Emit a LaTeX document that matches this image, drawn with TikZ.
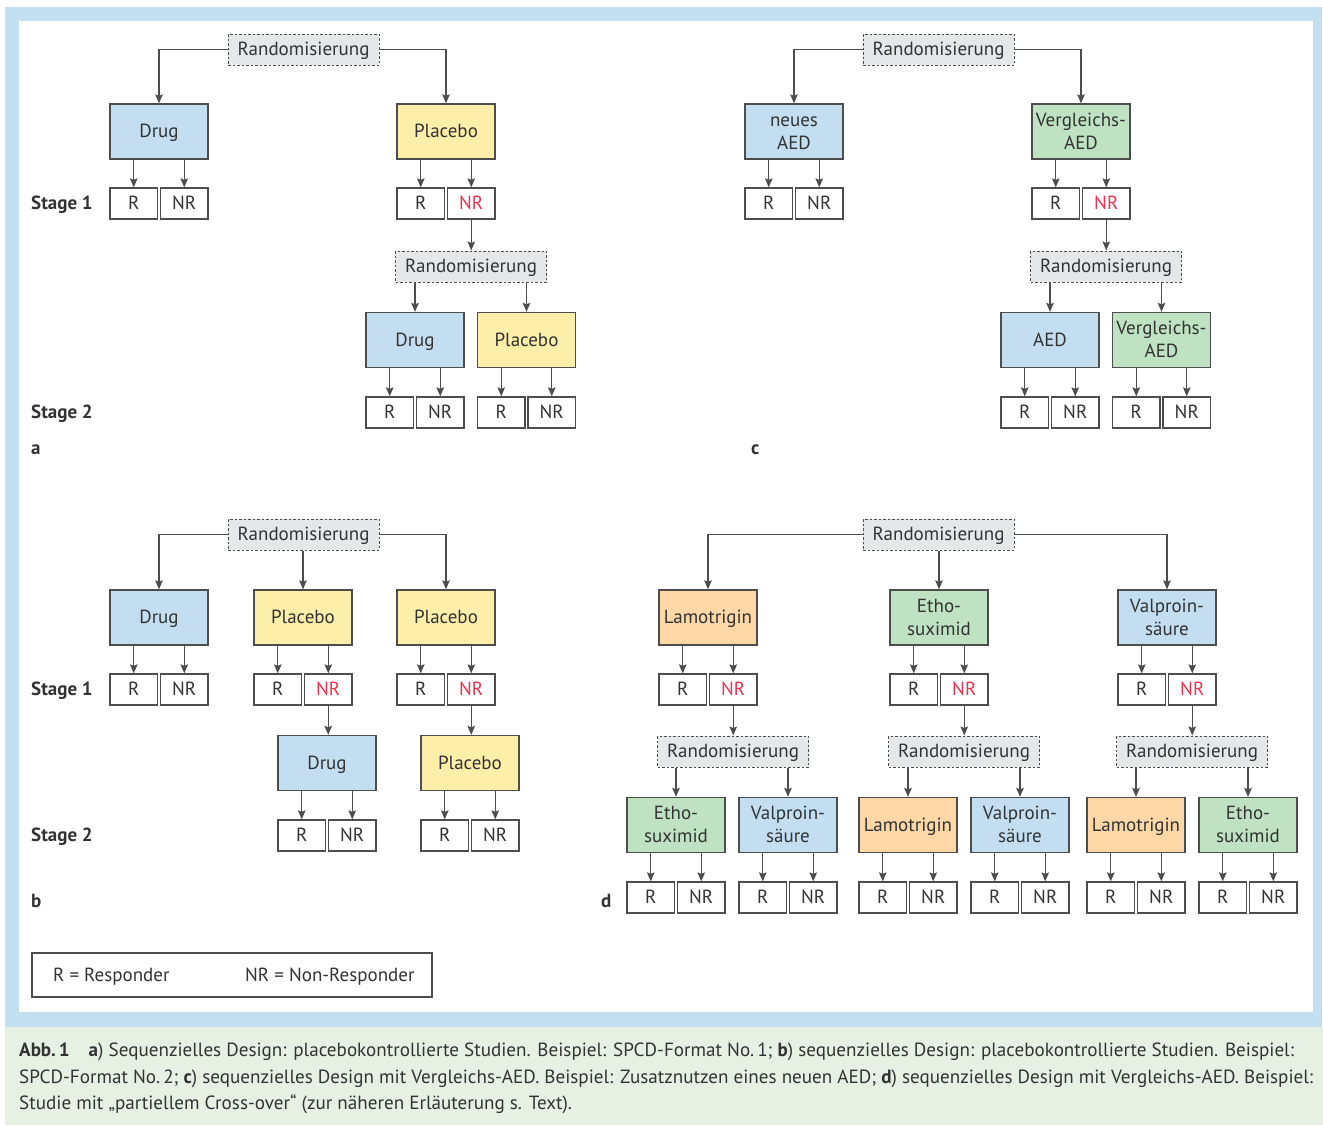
\documentclass[tikz,border=0pt]{standalone}
\usepackage{fontspec}
\setmainfont{PT Sans}
\usetikzlibrary{arrows.meta}
\definecolor{blueF}{HTML}{C2DEF0}
\definecolor{yellowF}{HTML}{FDEEAA}
\definecolor{greenF}{HTML}{BEE2C2}
\definecolor{orangeF}{HTML}{FDD8A6}
\definecolor{grayF}{HTML}{E6E7E8}
\definecolor{redT}{HTML}{E8334F}
\definecolor{lineC}{HTML}{4D4D4D}
\definecolor{textC}{HTML}{333333}
\definecolor{frameBlue}{HTML}{C4DFEF}
\definecolor{capGreen}{HTML}{E6F1E4}
\newcommand\fsN{\fontsize{19}{23}\selectfont}
\newcommand\fsC{\fontsize{19.1}{26}\selectfont}
\newcommand\twoline[2]{\rule{0pt}{14.5pt}#1\\#2\rule[-2.5pt]{0pt}{2.5pt}}
\tikzset{
  every node/.style={text=textC},
  drugbox/.style={draw=lineC, line width=1.3pt, minimum width=98pt, minimum height=55pt, inner sep=0pt, align=center, font=\fsN},
  sbox/.style={drugbox, text height=14.5pt, text depth=2.5pt},
  rn/.style={draw=lineC, line width=1.3pt, minimum width=47.5pt, minimum height=31pt, inner sep=0pt, font=\fsN, text height=14.5pt, text depth=2.5pt},
  randbox/.style={draw=lineC, line width=1pt, dash pattern=on 2.5pt off 2pt, fill=grayF, minimum width=151pt, minimum height=31pt, inner sep=0pt, font=\fsN, text height=14.5pt, text depth=2.5pt},
  arr/.style={draw=lineC, line width=1.2pt, -{Stealth[length=9pt,width=7.5pt,inset=1.5pt]}},
  lbl/.style={anchor=west, font=\fsN\bfseries, inner sep=0pt, text height=14.5pt, text depth=2.5pt},
}
\newcommand\RNpair[5]{%
  \node[rn] (#1R) at (#3-25.25,#4) {R};
  \node[rn, text=#5] (#1N) at (#3+25.25,#4) {NR};
  \draw[arr] (#2.south -| #1R.north) -- (#1R.north);
  \draw[arr] (#2.south -| #1N.north) -- (#1N.north);
}
\begin{document}
\begin{tikzpicture}[x=1pt,y=-1pt]
\useasboundingbox (0,0) rectangle (1323,1125);
% frame
\fill[frameBlue] (5,7) rectangle (1322,1027);
\fill[white] (19,21) rectangle (1313,1012);
\fill[capGreen] (5,1027) rectangle (1323,1125);

% ===== Panel a =====
\node[randbox] (randA) at (303.5,49.5) {Randomisierung};
\node[sbox, fill=blueF] (drugA) at (159,131.5) {Drug};
\node[sbox, fill=yellowF] (placA) at (446,131.5) {Placebo};
\draw[arr] (randA.west) -| (drugA.north);
\draw[arr] (randA.east) -| (placA.north);
\RNpair{aA}{drugA}{159}{203.5}{textC}
\RNpair{aB}{placA}{446}{203.5}{redT}
\node[randbox] (rand2A) at (471,266.5) {Randomisierung};
\draw[arr] (aBN.south) -- (aBN.south |- rand2A.north);
\node[sbox, fill=blueF] (drug2A) at (415,340) {Drug};
\node[sbox, fill=yellowF] (plac2A) at (526.5,340) {Placebo};
\draw[arr] (rand2A.south -| drug2A.north) -- (drug2A.north);
\draw[arr] (rand2A.south -| plac2A.north) -- (plac2A.north);
\RNpair{aC}{drug2A}{415}{412.5}{textC}
\RNpair{aD}{plac2A}{526.5}{412.5}{textC}
\node[lbl] (st1A) at (31,203.5) {Stage 1};
\node[lbl] (st2A) at (31,412.5) {Stage 2};
\node[lbl] (labA) at (31,448) {a};

% ===== Panel c =====
\node[randbox] (randC) at (938.5,49.5) {Randomisierung};
\node[drugbox, fill=blueF] (neuC) at (794,131.5) {\twoline{neues}{AED}};
\node[drugbox, fill=greenF] (vglC) at (1081,131.5) {\twoline{Vergleichs-}{AED}};
\draw[arr] (randC.west) -| (neuC.north);
\draw[arr] (randC.east) -| (vglC.north);
\RNpair{cA}{neuC}{794}{203.5}{textC}
\RNpair{cB}{vglC}{1081}{203.5}{redT}
\node[randbox] (rand2C) at (1106,266.5) {Randomisierung};
\draw[arr] (cBN.south) -- (cBN.south |- rand2C.north);
\node[sbox, fill=blueF] (aedC) at (1050,340) {AED};
\node[drugbox, fill=greenF] (vgl2C) at (1161.5,340) {\twoline{Vergleichs-}{AED}};
\draw[arr] (rand2C.south -| aedC.north) -- (aedC.north);
\draw[arr] (rand2C.south -| vgl2C.north) -- (vgl2C.north);
\RNpair{cC}{aedC}{1050}{412.5}{textC}
\RNpair{cD}{vgl2C}{1161.5}{412.5}{textC}
\node[lbl] (labC) at (751,448) {c};

% ===== Panel b =====
\node[randbox] (randB) at (303.5,534.5) {Randomisierung};
\node[sbox, fill=blueF] (drugB) at (159,617.5) {Drug};
\node[sbox, fill=yellowF] (pl1B) at (303,617.5) {Placebo};
\node[sbox, fill=yellowF] (pl2B) at (446,617.5) {Placebo};
\draw[arr] (randB.west) -| (drugB.north);
\draw[arr] (randB.south -| pl1B.north) -- (pl1B.north);
\draw[arr] (randB.east) -| (pl2B.north);
\RNpair{bA}{drugB}{159}{689.5}{textC}
\RNpair{bB}{pl1B}{303}{689.5}{redT}
\RNpair{bC}{pl2B}{446}{689.5}{redT}
\node[sbox, fill=blueF] (drug2B) at (327,763) {Drug};
\node[sbox, fill=yellowF] (pl3B) at (470,763) {Placebo};
\draw[arr] (bBN.south) -- (bBN.south |- drug2B.north);
\draw[arr] (bCN.south) -- (bCN.south |- pl3B.north);
\RNpair{bD}{drug2B}{327}{835.5}{textC}
\RNpair{bE}{pl3B}{470}{835.5}{textC}
\node[lbl] (st1B) at (31,689.5) {Stage 1};
\node[lbl] (st2B) at (31,835.5) {Stage 2};
\node[lbl] (labB) at (31,901) {b};

% ===== Panel d =====
\node[randbox] (randD) at (938.5,534.5) {Randomisierung};
\node[sbox, fill=orangeF] (lamD) at (708,617.5) {Lamotrigin};
\node[drugbox, fill=greenF] (ethD) at (939,617.5) {\twoline{Etho-}{suximid}};
\node[drugbox, fill=blueF] (valD) at (1167,617.5) {\twoline{Valproin-}{säure}};
\draw[arr] (randD.west) -| (lamD.north);
\draw[arr] (randD.south -| ethD.north) -- (ethD.north);
\draw[arr] (randD.east) -| (valD.north);
\RNpair{dA}{lamD}{708}{689.5}{redT}
\RNpair{dB}{ethD}{939}{689.5}{redT}
\RNpair{dC}{valD}{1167}{689.5}{redT}
\node[randbox] (rLam) at (733,751.5) {Randomisierung};
\node[randbox] (rEth) at (964,751.5) {Randomisierung};
\node[randbox] (rVal) at (1192,751.5) {Randomisierung};
\draw[arr] (dAN.south) -- (dAN.south |- rLam.north);
\draw[arr] (dBN.south) -- (dBN.south |- rEth.north);
\draw[arr] (dCN.south) -- (dCN.south |- rVal.north);
% stage 2
\node[drugbox, fill=greenF] (d1E) at (676,825) {\twoline{Etho-}{suximid}};
\node[drugbox, fill=blueF] (d1V) at (788,825) {\twoline{Valproin-}{säure}};
\node[sbox, fill=orangeF] (d2L) at (908,825) {Lamotrigin};
\node[drugbox, fill=blueF] (d2V) at (1020,825) {\twoline{Valproin-}{säure}};
\node[sbox, fill=orangeF] (d3L) at (1136,825) {Lamotrigin};
\node[drugbox, fill=greenF] (d3E) at (1248,825) {\twoline{Etho-}{suximid}};
\draw[arr] (rLam.south -| d1E.north) -- (d1E.north);
\draw[arr] (rLam.south -| d1V.north) -- (d1V.north);
\draw[arr] (rEth.south -| d2L.north) -- (d2L.north);
\draw[arr] (rEth.south -| d2V.north) -- (d2V.north);
\draw[arr] (rVal.south -| d3L.north) -- (d3L.north);
\draw[arr] (rVal.south -| d3E.north) -- (d3E.north);
\RNpair{dD}{d1E}{676}{897.5}{textC}
\RNpair{dE}{d1V}{788}{897.5}{textC}
\RNpair{dF}{d2L}{908}{897.5}{textC}
\RNpair{dG}{d2V}{1020}{897.5}{textC}
\RNpair{dH}{d3L}{1136}{897.5}{textC}
\RNpair{dI}{d3E}{1248}{897.5}{textC}
\node[lbl] (labD) at (601,901) {d};

% ===== Legend =====
\node[draw=lineC, line width=1.1pt, minimum width=400pt, minimum height=44pt, inner sep=0pt] (legend) at (232,975) {};
\node[anchor=west, font=\fsN, inner sep=0pt, text height=14.5pt, text depth=2.5pt] (legR) at (53,975) {R = Responder};
\node[anchor=west, font=\fsN, inner sep=0pt, text height=14.5pt, text depth=2.5pt] (legNR) at (245,975) {NR = Non-Responder};

% ===== Caption =====
\node[anchor=base west, font=\fsC, inner sep=0pt] (cap1) at (19,1056.5) {\textbf{Abb.\,1}\hspace{19pt}\textbf{a}) Sequenzielles Design: placebokontrollierte Studien. Beispiel: SPCD-Format No.\,1; \textbf{b}) sequenzielles Design: placebokontrollierte Studien. Beispiel:};
\node[anchor=base west, font=\fsC, inner sep=0pt] (cap2) at (19,1083) {SPCD-Format No.\,2; \textbf{c}) sequenzielles Design mit Vergleichs-AED. Beispiel: Zusatznutzen eines neuen AED; \textbf{d}) sequenzielles Design mit Vergleichs-AED. Beispiel:};
\node[anchor=base west, font=\fsC, inner sep=0pt] (cap3) at (19,1109.5) {Studie mit „partiellem Cross-over“ (zur näheren Erläuterung s. Text).};
\end{tikzpicture}
\end{document}
